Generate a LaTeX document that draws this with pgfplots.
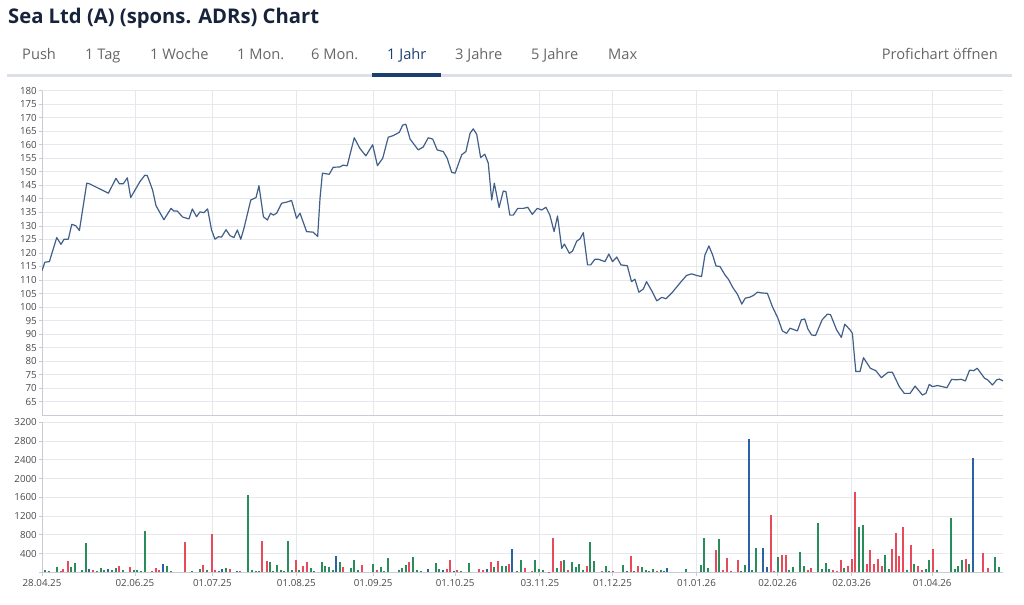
\documentclass[border=0pt]{standalone}
\usepackage{fontspec}
\setmainfont{Open Sans}
\usepackage{pgfplots}
\pgfplotsset{compat=1.18}
\definecolor{titlec}{HTML}{16233A}
\definecolor{tabc}{HTML}{666666}
\definecolor{activec}{HTML}{1B3F6E}
\definecolor{tabline}{HTML}{DDE0E6}
\definecolor{gridc}{HTML}{E6E8EE}
\definecolor{axc}{HTML}{C8CCD4}
\definecolor{tickc}{HTML}{4A4A4A}
\definecolor{pricec}{HTML}{415F88}
\definecolor{gc}{HTML}{2A8C5A}
\definecolor{rc}{HTML}{E84A5C}
\definecolor{bc}{HTML}{2B62A6}
\pgfplotsset{
  common/.style={
    scale only axis, width=961bp, xmin=0, xmax=365,
    xtick={0,35.3,64.7,96.6,125.8,156.9,189.1,216.7,248.6,279.4,307.5,338.1},
    grid=major, grid style={draw=gridc, line width=0.8bp},
    axis x line*=bottom, axis y line*=left,
    axis line style={draw=axc, line width=0.8bp, -},
    tick style={draw=axc, line width=0.8bp},
    tick align=outside, major tick length=3.5bp,
    ticklabel style={font=\fontsize{9.8}{10}\selectfont, text=tickc},
    yticklabel style={inner sep=1bp, xshift=-0.5bp},
    /pgf/number format/assume math mode=true,
    /pgf/number format/set thousands separator={},
  }
}
\begin{document}
\begin{tikzpicture}
\path[use as bounding box] (0bp,0bp) rectangle (1024bp,605bp);
% title
\node[anchor=base west, inner sep=0, text=titlec, font=\fontsize{20.3}{24}\selectfont\bfseries] at (8bp,581bp) {Sea Ltd (A) (spons. ADRs) Chart};
% tabs
\begin{scope}[every node/.style={anchor=base west, inner sep=0, text=tabc, font=\fontsize{14.7}{17}\selectfont}]
\node at (22bp,545.7bp) {Push};
\node at (85bp,545.7bp) {1 Tag};
\node at (150bp,545.7bp) {1 Woche};
\node at (237bp,545.7bp) {1 Mon.};
\node at (311bp,545.7bp) {6 Mon.};
\node[text=activec] at (387bp,545.7bp) {1 Jahr};
\node at (455bp,545.7bp) {3 Jahre};
\node at (531bp,545.7bp) {5 Jahre};
\node at (608bp,545.7bp) {Max};
\node[anchor=base east] at (998bp,545.7bp) {Profichart öffnen};
\end{scope}
\fill[tabline] (7.3bp,528bp) rectangle (1012bp,531bp);
\fill[activec] (372bp,528bp) rectangle (440.7bp,531.5bp);
% price panel
\begin{axis}[common, at={(42bp,189.7bp)}, anchor=south west, height=324.6bp,
  ymin=60, ymax=180, ytick={65,70,...,180}, xticklabels={}, xtick style={draw=none}]
\addplot[pricec, line width=1.2bp, line join=round] coordinates {
(0,113.5) (1.1,116.6) (2.8,116.8) (5.6,125.7) (7.2,123.2) (8.4,125.1) (10,125.1) (11.3,130.6) (12.8,130.1) (14.2,128.3)
(17,145.8) (18,145.6) (25.2,142.1) (28.1,147.6) (29.4,145.6) (30.9,145.6) (32.4,147.8) (33.7,140.5) (35,142.7) (37.2,146.4)
(39.1,148.8) (40,148.6) (42,143.3) (43.3,137.5) (46.3,132.3) (49,136.5) (50.1,135.5) (51.4,135.5) (53.4,133.3) (55.8,132.6)
(57.1,136.3) (58.7,133.4) (60,135.2) (61.5,134.9) (62.9,136.3) (64.4,128.5) (65.7,125.1) (67,126) (68.2,125.9) (69.9,128.6)
(71.4,126.4) (72.9,125.7) (74.2,128.5) (75.5,125.1) (76.7,129.1) (79.3,139.6) (81.3,140.5) (82.4,144.9) (84.1,133.4) (85.6,132.2)
(86.8,134.7) (87.9,134) (89.1,134.7) (91,138.4) (92.9,138.8) (94.8,139.4) (96.7,132.8) (98,134.7) (100.5,127.9) (103,127.7)
(104.7,126.1) (105.6,140.3) (106.5,149.5) (109.1,149.1) (110.6,151.7) (113.1,151.8) (114.4,152.5) (115.9,152.2) (118.6,162.6) (120.7,158.7)
(123,155.9) (125.6,160) (127.4,152.3) (129.4,155) (131.5,162.8) (133.4,163.4) (135.7,164.6) (137,167.3) (138.2,167.6) (139.8,162.1)
(142.9,158.1) (144.8,159.2) (146.7,162.6) (148.4,162.1) (150.1,158.1) (152.4,157.5) (153.9,155) (155.6,149.8) (156.9,149.5) (159.4,156.3)
(161,157.5) (162.6,164.3) (163.8,165.9) (165.1,163.9) (166.6,155.3) (168.2,156.5) (169.5,153.2) (170.8,139.6) (171.8,145.8) (173.6,136.8)
(175.2,142.9) (176.2,142.7) (177.7,134) (179,134) (180.7,136.5) (182.8,136.5) (184.5,136.9) (186.2,134.3) (188.1,136.5) (189.8,135.9)
(191.4,136.9) (192.9,134) (194.5,127.9) (195.8,133.7) (197.4,121.7) (198.4,123.3) (200.3,119.9) (201.5,120.7) (203.1,124.4) (204.3,125.2)
(205.6,127.5) (207.2,115.6) (208.4,115.6) (210,117.7) (211.3,117.7) (213.8,116.8) (215.3,119.6) (216.7,116.8) (218.3,118.5) (219.9,115.6)
(222.3,115.3) (223.9,109.4) (225.2,110.3) (226.7,105.5) (228.4,106.7) (229.6,109.4) (231.6,106) (233.5,102.3) (235.4,103.6) (237,103.1)
(239.2,105.2) (242.3,108.9) (244.8,111.7) (246.7,112.3) (248.6,111.7) (250.5,111.3) (251.8,119.3) (253.3,122.6) (254.7,119.3) (256,115.2)
(257.5,115) (259.4,111.9) (260.7,110.3) (262.4,107.2) (264.1,104.8) (265.8,101.1) (267.1,103.3) (268.9,103.7) (270.2,104.3) (271.7,105.5)
(273.7,105.2) (275.5,105.1) (277.4,100.2) (279.5,95.9) (281.2,91.2) (282.8,90.3) (284.1,92.2) (286.9,91.2) (288.4,95.3) (289.7,95.6)
(290.9,91.9) (292.3,89.7) (293.8,89.5) (296.3,95.3) (298.3,97.4) (299.5,97.2) (301.8,91.6) (303.6,88.8) (304.9,93.7) (306.9,91.6)
(307.8,90.3) (308.4,83.5) (309.1,76.2) (310.7,76.2) (312,81.3) (314.6,77.4) (316.7,76.5) (318.8,73.9) (321.3,75.9) (323,75.9)
(325.6,70.6) (327.5,68.1) (329.7,68.1) (331.6,70.8) (334.4,67.5) (335.7,68.1) (337,71.4) (338.2,70.6) (340.2,71) (343.7,70.2)
(345.5,73.3) (347.2,73.1) (349.1,73.3) (350.7,72.7) (352.3,76.7) (353.9,76.5) (355.2,77.4) (358,73.7) (359.2,73.1) (361,71.2)
(362.6,73.1) (363.6,73.4) (365,72.7)
};
\end{axis}
% volume panel
\begin{axis}[common, at={(42bp,32.7bp)}, anchor=south west, height=150bp,
  ymin=0, ymax=3200, ytick={0,400,...,3200},
  yticklabels={,400,800,1200,1600,2000,2400,2800,3200},
  xticklabels={28.04.25,02.06.25,01.07.25,01.08.25,01.09.25,01.10.25,03.11.25,01.12.25,01.01.26,02.02.26,02.03.26,01.04.26},
  xticklabel style={yshift=-0.5bp}]
\addplot[ycomb, draw=gc, line width=2bp] table[row sep=\\] {
x y\\ 1.1 57\\ 2.8 36\\ 5.6 107\\ 10.9 107\\ 12.5 206\\ 15.3 57\\ 16.7 627\\ 21.0 36\\ 22.3 100\\ 23.7 57\\
26.5 43\\ 28.0 100\\ 30.6 57\\ 34.9 57\\ 36.2 57\\ 37.6 36\\ 39.2 876\\ 47.4 142\\ 48.9 28\\ 57.1 28\\
60.0 78\\ 62.8 50\\ 67.2 28\\ 69.8 100\\ 78.4 1645\\ 79.6 50\\ 81.2 36\\ 82.4 36\\ 86.6 228\\ 87.8 36\\
89.1 164\\ 90.7 43\\ 91.9 36\\ 93.5 662\\ 95.1 50\\ 97.7 50\\ 102.1 93\\ 103.4 28\\ 106.2 228\\ 107.5 142\\
109.0 121\\ 110.4 50\\ 113.2 228\\ 117.2 93\\ 118.6 271\\ 120.1 50\\ 125.6 185\\ 128.6 121\\ 129.9 36\\ 131.3 299\\
135.6 57\\ 136.8 100\\ 138.2 164\\ 141.0 320\\ 142.5 50\\ 143.8 28\\ 149.5 206\\ 150.9 78\\ 159.1 28\\ 162.2 206\\
171.8 121\\ 174.8 142\\ 176.1 142\\ 180.3 28\\ 181.8 271\\ 187.2 271\\ 188.8 78\\ 190.2 50\\ 195.5 100\\ 198.4 271\\
201.2 228\\ 202.7 121\\ 204.1 185\\ 205.4 50\\ 208.1 641\\ 209.6 249\\ 214.1 142\\ 215.3 36\\ 220.8 164\\ 225.0 36\\
227.8 121\\ 229.3 50\\ 230.5 36\\ 232.2 78\\ 235.0 50\\ 236.2 36\\ 244.6 78\\ 250.3 164\\ 251.5 733\\ 253.1 100\\
257.2 712\\ 267.0 164\\ 269.8 50\\ 271.2 513\\ 279.4 320\\ 283.7 43\\ 285.1 121\\ 287.9 427\\ 289.5 142\\ 294.8 1054\\
296.4 78\\ 297.6 206\\ 299.0 78\\ 304.6 100\\ 310.3 968\\ 311.9 1011\\ 320.2 377\\ 321.7 78\\ 328.6 50\\ 331.3 185\\
335.6 78\\ 336.9 271\\ 339.8 50\\ 345.2 1160\\ 346.7 78\\ 348.0 142\\ 349.5 271\\ 352.2 185\\ 361.9 320\\ 363.5 121\\
};
\addplot[ycomb, draw=rc, line width=2bp] table[row sep=\\] {
x y\\ 7.1 36\\ 8.1 78\\ 9.8 235\\ 19.5 50\\ 29.1 142\\ 33.4 121\\ 41.9 36\\ 43.2 100\\ 44.5 43\\ 54.3 641\\
61.3 164\\ 64.5 819\\ 65.7 50\\ 71.4 78\\ 75.2 36\\ 83.7 662\\ 85.3 249\\ 96.5 271\\ 99.2 142\\ 100.5 221\\
114.4 121\\ 121.6 164\\ 127.1 50\\ 139.5 221\\ 153.7 78\\ 155.0 271\\ 157.7 50\\ 166.1 78\\ 167.6 50\\ 170.5 228\\
173.3 249\\ 177.5 185\\ 183.3 100\\ 186.0 36\\ 192.6 15\\ 194.0 733\\ 197.0 249\\ 199.9 57\\ 206.9 142\\ 212.6 36\\
216.7 36\\ 223.6 342\\ 226.2 142\\ 233.5 36\\ 255.9 484\\ 258.8 57\\ 260.0 313\\ 261.6 36\\ 264.2 271\\ 276.8 1232\\
278.1 28\\ 280.9 363\\ 282.5 363\\ 290.8 50\\ 292.1 100\\ 300.5 50\\ 301.8 36\\ 303.3 271\\ 306.0 142\\ 307.5 292\\
308.8 1709\\ 313.2 185\\ 314.5 484\\ 316.0 185\\ 317.4 292\\ 318.9 142\\ 322.9 506\\ 324.2 833\\ 325.6 342\\ 327.1 968\\
329.9 591\\ 332.8 142\\ 334.1 50\\ 338.3 491\\ 350.8 292\\ 357.5 406\\ 359.2 100\\
};
\addplot[ycomb, draw=bc, line width=2bp] table[row sep=\\] {
x y\\ 18.0 78\\ 25.0 78\\ 46.1 185\\ 68.2 78\\ 74.2 36\\ 111.7 342\\ 146.5 78\\ 152.4 50\\ 156.5 36\\ 169.1 78\\
178.6 498\\ 222.3 36\\ 237.5 100\\ 265.5 36\\ 268.5 2834\\ 273.9 513\\ 275.5 121\\ 353.7 2428\\
};
\end{axis}
\end{tikzpicture}
\end{document}
